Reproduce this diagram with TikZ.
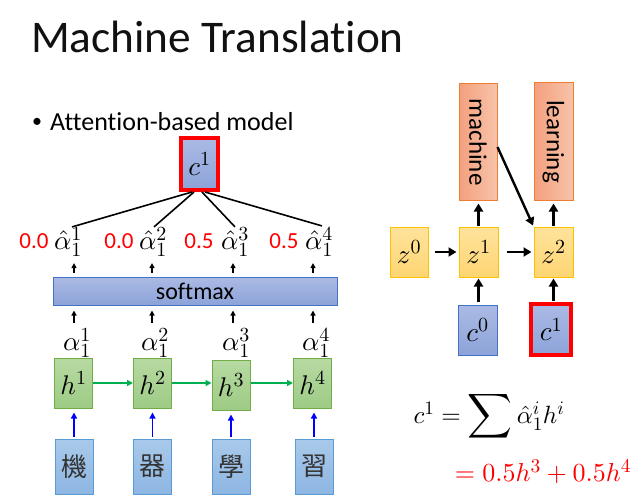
\documentclass[tikz,border=0pt]{standalone}
\usepackage{exscale}
\usepackage[no-math]{fontspec}
\setmainfont{Carlito}[Ligatures=NoCommon]
\newfontfamily\cjk{Noto Sans CJK TC}
\usepackage{graphicx}
\usetikzlibrary{arrows.meta,calc}
\DeclareFontFamily{OML}{cmmx}{\skewchar\font=127}
\DeclareFontShape{OML}{cmmx}{m}{it}{<->cmmi10}{}
\DeclareSymbolFont{letters}{OML}{cmmx}{m}{it}
\DeclareFontFamily{OT1}{cmrx}{\hyphenchar\font=45}
\DeclareFontShape{OT1}{cmrx}{m}{n}{<->cmr10}{}
\DeclareSymbolFont{operators}{OT1}{cmrx}{m}{n}
\DeclareFontFamily{OMS}{cmsx}{\skewchar\font=48}
\DeclareFontShape{OMS}{cmsx}{m}{n}{<->cmsy10}{}
\DeclareSymbolFont{symbols}{OMS}{cmsx}{m}{n}
\DeclareMathSizes{27}{27}{20}{15}
\DeclareMathSizes{26}{26}{19.5}{15}
\DeclareMathSizes{25}{25}{19}{14}
\definecolor{bluefillT}{HTML}{ABBAE4}
\definecolor{bluefillB}{HTML}{8CA3D9}
\definecolor{blueborder}{HTML}{4472C4}
\definecolor{greenT}{HTML}{B7DAA2}
\definecolor{greenB}{HTML}{9DCB85}
\definecolor{greenborder}{HTML}{70AD47}
\definecolor{wordT}{HTML}{A9C9EA}
\definecolor{wordB}{HTML}{8DB6E2}
\definecolor{wordborder}{HTML}{5B9BD5}
\definecolor{goldT}{HTML}{FFE39C}
\definecolor{goldB}{HTML}{FED572}
\definecolor{goldborder}{HTML}{FFC000}
\definecolor{orangeL}{HTML}{F3A07E}
\definecolor{orangeR}{HTML}{F8C3AA}
\definecolor{orangeborder}{HTML}{ED7D31}
\definecolor{greenarrow}{HTML}{00B050}
\definecolor{redc}{HTML}{FF0000}
\definecolor{titlegray}{HTML}{111111}
\definecolor{cjkgray}{HTML}{333333}
\tikzset{
  basebox/.style={draw, line width=1pt, inner sep=0pt, minimum width=38pt, minimum height=50pt},
  cbox/.style={basebox, top color=bluefillT, bottom color=bluefillB, draw=blueborder},
  redbox/.style={cbox, draw=redc, line width=4pt},
  hbox/.style={basebox, top color=greenT, bottom color=greenB, draw=greenborder},
  wbox/.style={basebox, top color=wordT, bottom color=wordB, draw=wordborder, minimum height=55pt, text=cjkgray, font=\fontsize{26}{30}\selectfont\cjk},
  zbox/.style={basebox, top color=goldT, bottom color=goldB, draw=goldborder},
  obox/.style={basebox, left color=orangeL, right color=orangeR, draw=orangeborder, minimum height=116pt, font=\fontsize{25}{28}\selectfont},
  mth/.style={font=\fontsize{27}{30}\selectfont, inner sep=0pt},
  fml/.style={font=\fontsize{26}{30}\selectfont, inner sep=0pt},
  rednum/.style={font=\fontsize{23}{26}\selectfont, text=redc, inner sep=0pt},
  sarr/.style={line width=1.4pt, -{Triangle[length=5pt,width=5pt]}},
  garr/.style={draw=greenarrow, line width=1.6pt, -{Triangle[length=6pt,width=6pt]}},
  barr/.style={draw=blue, line width=1.6pt, -{Triangle[length=6pt,width=6pt]}},
  karr/.style={line width=2.4pt, -{Triangle[length=8pt,width=9pt]}},
}
\begin{document}
\begin{tikzpicture}[x=1pt,y=-1pt]
\fill[white] (0,0) rectangle (640,503);
\useasboundingbox (0,0) rectangle (640,503);

% title and bullet
\node[anchor=base west, inner sep=0pt, font=\fontsize{45.3}{50}\selectfont, text=titlegray] (title) at (31,53) {Machine Translation};
\node[inner sep=0pt, font=\fontsize{20}{24}\selectfont] (bul) at (37,123) {\textbullet};
\node[anchor=base west, inner sep=0pt, font=\fontsize{26}{30}\selectfont] (sub) at (50,130) {Attention-based model};

% left diagram
\node[redbox, minimum width=37pt, minimum height=52pt, mth] (c1L) at (199.5,164) {$c^1$};

\node[rednum] (n1) at (34,241) {0.0};
\node[rednum] (n2) at (119,241) {0.0};
\node[rednum] (n3) at (199,241) {0.5};
\node[rednum] (n4) at (284,241) {0.5};
\node[mth] (ah1) at (68,242) {$\hat{\alpha}_1^1$};
\node[mth] (ah2) at (153,242) {$\hat{\alpha}_1^2$};
\node[mth] (ah3) at (235,242) {$\hat{\alpha}_1^3$};
\node[mth] (ah4) at (319,242) {$\hat{\alpha}_1^4$};

\draw[line width=1.6pt] ($(c1L.south)+(-7.5,0)$) -- ($(ah1.north)+(4,0)$);
\draw[line width=1.6pt] ($(c1L.south)+(-5.5,0)$) -- ($(ah2.north)+(1,0)$);
\draw[line width=1.6pt] ($(c1L.south)+(2.5,0)$) -- ($(ah3.north)+(0,0)$);
\draw[line width=1.6pt] ($(c1L.south)+(5.5,0)$) -- ($(ah4.north)+(3,-1)$);

\node[draw=blueborder, line width=1pt, top color=bluefillT, bottom color=bluefillB, minimum width=284pt, minimum height=28pt, inner sep=0pt, font=\fontsize{24}{28}\selectfont] (sm) at (195,291) {softmax};

\node[mth] (al1) at (77,343) {$\alpha_1^1$};
\node[mth] (al2) at (155,343) {$\alpha_1^2$};
\node[mth] (al3) at (236,343) {$\alpha_1^3$};
\node[mth] (al4) at (316,343) {$\alpha_1^4$};

\foreach \i in {1,2,3,4}{
  \draw[sarr, shorten <=5pt, shorten >=5pt] ([xshift=-3pt]al\i.north) -- ([xshift=-3pt]al\i.north |- sm.south);
  \draw[sarr, shorten <=4pt, shorten >=6pt] ([xshift=-3pt]al\i.north |- sm.north) -- ([xshift=-3pt]al\i.north |- ah\i.south);
}

\node[hbox, mth] (h1) at (73.5,383) {$h^1$};
\node[hbox, mth] (h2) at (152.5,383) {$h^2$};
\node[hbox, mth] (h3) at (231,385) {$h^3$};
\node[hbox, mth] (h4) at (312.5,383) {$h^4$};
\draw[garr] (h1.east) -- (h2.west);
\draw[garr] (h2.east) -- (h3.west |- h2.east);
\draw[garr] (h3.east |- h4.west) -- (h4.west);

\node[wbox] (w1) at (74,466.5) {機};
\node[wbox] (w2) at (152.5,466.5) {器};
\node[wbox] (w3) at (231,466.5) {學};
\node[wbox] (w4) at (314,466.5) {習};
\foreach \i in {1,2,3,4}{
  \draw[barr, shorten <=2pt, shorten >=4pt] (w\i.north) -- (w\i.north |- h\i.south);
}

% right diagram
\node[obox] (mach) at (478,142) {\rotatebox{-90}{machine}};
\node[obox, minimum width=39pt, minimum height=117pt] (lear) at (553.5,141.5) {\rotatebox{-90}{learning}};
\node[zbox, mth] (z0) at (409,252) {$z^0$};
\node[zbox, mth, minimum width=39pt] (z1) at (478.5,252) {$z^1$};
\node[zbox, mth, minimum width=39pt] (z2) at (553.5,252) {$z^2$};
\node[cbox, mth, minimum width=39pt] (c0) at (477.5,330) {$c^0$};
\node[redbox, mth, minimum width=40pt, minimum height=51pt] (c1R) at (551,329.5) {$c^1$};

\draw[karr, shorten <=6pt, shorten >=2pt] (z0.east) -- (z1.west);
\draw[karr, shorten <=8pt, shorten >=2pt] (z1.east) -- (z2.west);
\draw[karr, shorten <=1pt, shorten >=3pt] (z1.north) -- (mach.south -| z1.north);
\draw[karr, shorten <=1pt, shorten >=3pt] (z2.north) -- (lear.south -| z2.north);
\draw[karr, shorten <=3pt, shorten >=1pt] (c0.north -| z1.south) -- (z1.south);
\draw[karr, shorten <=1pt, shorten >=1pt] (c1R.north -| z2.south) -- (z2.south);
\draw[karr, shorten >=1pt] ($(mach.east)+(0,5)$) -- (z2.north west);

% formula
\node[font=\fontsize{25}{30}\selectfont, inner sep=0pt] (f1) at (489,416) {$c^1=\mathop{\scalebox{1.25}{$\displaystyle\sum$}}\hat{\alpha}_1^i h^i$};
\node[fml, text=redc] (f2) at (543,472) {$=0.5h^3+0.5h^4$};
\end{tikzpicture}
\end{document}
